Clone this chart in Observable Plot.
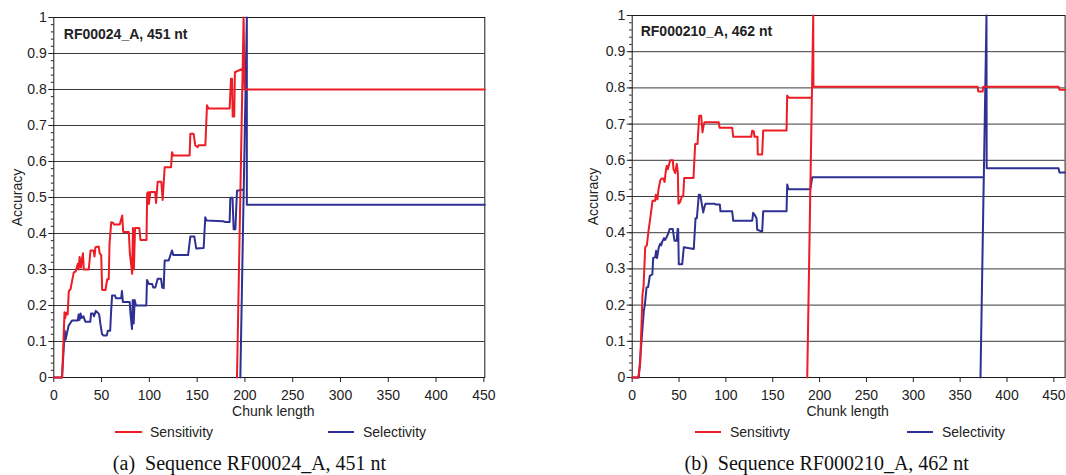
<!DOCTYPE html>
<html>
<head>
<meta charset="utf-8">
<script src="https://cdn.jsdelivr.net/npm/d3@7"></script>
<script src="https://cdn.jsdelivr.net/npm/@observablehq/plot@0.6"></script>
<style>
  html, body { margin: 0; padding: 0; background: #fff; }
  #fig { position: relative; width: 1066px; height: 475px; overflow: hidden; background: #fff; font-family: 'Liberation Sans', Arial, sans-serif; }
  .panel { position: absolute; top: 0; }
  .leg-line { position: absolute; height: 2px; }
  .leg-text { position: absolute; font-size: 14px; line-height: 16px; color: #222; white-space: nowrap; }
  .cap { position: absolute; font-family: 'Liberation Serif', 'Times New Roman', serif; font-size: 20px; line-height: 20px; color: #111; white-space: pre; transform: translateX(-50%); }
</style>
</head>
<body>
<div id="fig"></div>
<script>
// ---- shared axis ticks ----
const xTicks = [0, 50, 100, 150, 200, 250, 300, 350, 400, 450];
const xTickLabels = ["0", "50", "100", "150", "200", "250", "300", "350", "400", "450"];
const yTicks = [0, 0.1, 0.2, 0.3, 0.4, 0.5, 0.6, 0.7, 0.8, 0.9, 1];
const yTickLabels = ["0", "0.1", "0.2", "0.3", "0.4", "0.5", "0.6", "0.7", "0.8", "0.9", "1"];
const xLabel = "Chunk length";
const yLabel = "Accuracy";

// ---- panel (a) ----
const titleA = "RF00024_A, 451 nt";
const lengthA = 451;
const sensitivityA = [[0,0],[8.7,0],[11.2,0.181],[12,0.165],[13,0.18],[14.5,0.175],[15.7,0.24],[17.5,0.245],[19.2,0.269],[20.9,0.292],[23,0.295],[25.1,0.316],[26,0.30],[27,0.335],[28.5,0.305],[29.5,0.33],[30.5,0.345],[31.4,0.30],[36.6,0.30],[38.4,0.353],[41.5,0.353],[42.6,0.336],[43.6,0.362],[47,0.364],[48,0.345],[49.6,0.34],[50.6,0.243],[54.1,0.243],[55.9,0.273],[57.5,0.273],[58.3,0.371],[60.1,0.431],[62,0.43],[63,0.425],[69,0.425],[71.6,0.45],[72.6,0.404],[78.5,0.404],[79.5,0.348],[82,0.288],[82.8,0.415],[83.8,0.30],[85,0.415],[89.5,0.415],[90.7,0.382],[97,0.382],[97.7,0.512],[99,0.515],[99.5,0.482],[101,0.515],[106,0.515],[107,0.485],[108.7,0.544],[112.5,0.544],[113.9,0.493],[116,0.584],[122.7,0.584],[123.7,0.626],[125,0.617],[142.1,0.617],[142.9,0.677],[146.3,0.677],[148,0.645],[150.5,0.64],[151.5,0.645],[158.6,0.645],[160.3,0.756],[162,0.747],[184,0.747],[185.4,0.83],[186.5,0.83],[187.2,0.725],[188.8,0.725],[189.5,0.848],[197.6,0.858],[191.7,0],[198.6,1],[199.6,0.8],[451,0.8]];
const selectivityA = [[0,0],[8.6,0],[11.5,0.13],[12.3,0.105],[15.5,0.144],[17,0.15],[19,0.158],[25,0.158],[26,0.175],[27,0.16],[28,0.178],[29,0.165],[31,0.17],[33,0.155],[38.2,0.155],[39,0.178],[41,0.178],[42,0.17],[44,0.185],[46,0.18],[47.5,0.175],[48.7,0.15],[50.5,0.12],[52.1,0.117],[55.5,0.117],[56.5,0.13],[59,0.13],[60,0.185],[61,0.228],[64,0.228],[65,0.22],[70.5,0.22],[71.3,0.24],[72.3,0.21],[79.4,0.21],[80.2,0.178],[81.8,0.135],[82.6,0.215],[83.6,0.15],[84.6,0.215],[86,0.2],[96.8,0.2],[97.5,0.271],[99.5,0.26],[103,0.26],[104,0.25],[106.2,0.25],[108.7,0.274],[112.2,0.274],[113.5,0.25],[115,0.248],[116,0.325],[120.2,0.325],[123.7,0.353],[125,0.34],[140.5,0.34],[142.9,0.392],[147,0.392],[149.1,0.358],[156.8,0.36],[158.5,0.445],[160,0.436],[177,0.434],[179.5,0.432],[184,0.432],[184.7,0.499],[187,0.499],[188.2,0.412],[190,0.412],[191.7,0.519],[198.7,0.522],[195.2,0],[202,1],[202,0.48],[451,0.48]];
const legendA = ["Sensitivity", "Selectivity"];
const captionA = "(a)  Sequence RF00024_A, 451 nt";

// ---- panel (b) ----
const titleB = "RF000210_A, 462 nt";
const lengthB = 462;
const sensitivityB = [[0,0],[6.5,0],[8.5,0.037],[11,0.23],[12.1,0.25],[13.9,0.36],[15.6,0.365],[17.4,0.405],[19.2,0.438],[21.7,0.488],[24.5,0.488],[25.2,0.505],[27,0.492],[28.1,0.52],[29.9,0.544],[31.3,0.55],[33.4,0.55],[34.5,0.54],[35.9,0.571],[36.9,0.585],[38,0.575],[39.5,0.59],[40.6,0.6],[43.3,0.6],[44.1,0.575],[45.9,0.565],[47.6,0.59],[48.7,0.565],[49.4,0.48],[51.2,0.485],[52.9,0.5],[54.4,0.5],[55.5,0.551],[65.4,0.551],[67.2,0.645],[69.7,0.645],[71.5,0.723],[73.6,0.723],[75,0.677],[76.1,0.695],[77.2,0.705],[92.4,0.705],[93.2,0.69],[106.7,0.69],[107.8,0.665],[127,0.665],[128.1,0.682],[129.8,0.68],[130.5,0.665],[133.7,0.665],[134,0.616],[138.7,0.616],[139.8,0.682],[164.7,0.682],[165.4,0.779],[167.1,0.773],[191.7,0.773],[186.8,0],[193.2,1],[193.4,0.803],[368.8,0.803],[369.3,0.79],[374,0.79],[374.6,0.803],[455,0.803],[456,0.795],[462,0.795]];
const selectivityB = [[0,0],[7,0],[12.4,0.184],[13.5,0.2],[15.3,0.249],[17,0.25],[18.8,0.281],[21.5,0.285],[22.4,0.33],[24.5,0.332],[25.5,0.35],[26.5,0.33],[28.4,0.36],[30,0.37],[31,0.365],[32,0.375],[34,0.385],[35,0.38],[36.6,0.387],[38,0.395],[40.1,0.41],[43.3,0.41],[45.1,0.378],[47.5,0.378],[48.5,0.41],[49.1,0.41],[49.7,0.313],[53.4,0.313],[55.1,0.36],[65.7,0.355],[67.6,0.44],[69,0.44],[71.1,0.505],[72.5,0.505],[75.8,0.456],[77,0.47],[78.2,0.48],[88,0.48],[89,0.478],[93.5,0.478],[94.2,0.459],[106.7,0.459],[107.8,0.433],[128.1,0.433],[129.1,0.455],[130.5,0.45],[132.7,0.44],[133.4,0.408],[138.7,0.403],[139.8,0.459],[164.7,0.459],[165.4,0.533],[166.8,0.52],[190.1,0.52],[192.1,0.553],[375.2,0.553],[371.7,0],[378.1,1],[378.3,0.578],[455,0.578],[456,0.566],[462,0.566]];
const legendB = ["Sensitivty", "Selectivity"];
const captionB = "(b)  Sequence RF000210_A, 462 nt";

const RED = "#ee1c25";
const BLUE = "#2e3192";
const INK = "#222";
const minorY = d3.range(0, 1.0001, 0.02);

function panel({length, sens, sel, title, left, width, marginLeft, marginRight, marginTop, titleDx, titleDy, xLabelDx, yLabelDx}) {
  const height = 420;
  const frameBottom = 377;
  const plot = Plot.plot({
    width, height,
    marginLeft, marginRight, marginTop,
    marginBottom: height - frameBottom,
    x: {domain: [0, length]},
    y: {domain: [0, 1]},
    style: {fontFamily: "'Liberation Sans', Arial, sans-serif", fontSize: "14px", background: "white", overflow: "visible", color: INK},
    marks: [
      Plot.gridY(yTicks, {stroke: "#3a3a3a", strokeOpacity: 1, strokeWidth: 1}),
      Plot.axisY(minorY, {tickSize: 2.5, tickFormat: () => "", stroke: INK, label: null}),
      Plot.axisY(yTicks, {tickSize: 5, tickPadding: 2, tickFormat: d => yTickLabels[yTicks.indexOf(d)], fontSize: 14, fill: INK, stroke: INK, label: null}),
      Plot.axisX(xTicks, {tickSize: 5, tickPadding: 8, tickFormat: d => xTickLabels[xTicks.indexOf(d)], fontSize: 14, fill: INK, stroke: INK, label: null}),
      Plot.frame({stroke: "#1a1a1a", strokeWidth: 1}),
      Plot.line(sel, {x: d => d[0], y: d => d[1], stroke: BLUE, strokeWidth: 2, curve: "linear"}),
      Plot.line(sens, {x: d => d[0], y: d => d[1], stroke: RED, strokeWidth: 2, curve: "linear"}),
      Plot.text([title], {text: d => d, frameAnchor: "top-left", dx: titleDx, dy: titleDy, lineAnchor: "middle", textAnchor: "start", fontWeight: "bold", fontSize: 14, fill: INK}),
      Plot.text([xLabel], {text: d => d, frameAnchor: "bottom", dx: xLabelDx, dy: 38.5, lineAnchor: "bottom", fontSize: 14, fill: INK}),
      Plot.text([yLabel], {text: d => d, frameAnchor: "left", dx: yLabelDx, rotate: -90, lineAnchor: "middle", textAnchor: "middle", fontSize: 14, fill: INK})
    ]
  });
  plot.classList.add("panel");
  plot.style.left = left + "px";
  return plot;
}

const fig = document.getElementById("fig");
fig.appendChild(panel({length: lengthA, sens: sensitivityA, sel: selectivityA, title: titleA, left: 0, width: 533, marginLeft: 53.3, marginRight: 48.7, marginTop: 17, titleDx: 10, titleDy: 17.5, xLabelDx: 4, yLabelDx: -36}));
fig.appendChild(panel({length: lengthB, sens: sensitivityB, sel: selectivityB, title: titleB, left: 578, width: 488, marginLeft: 53.7, marginRight: 1.4, marginTop: 15, titleDx: 8.5, titleDy: 16.5, xLabelDx: -1, yLabelDx: -39}));

function legendItem(x0, x1, tx, color, label) {
  const l = document.createElement("div");
  l.className = "leg-line";
  l.style.left = x0 + "px"; l.style.width = (x1 - x0) + "px"; l.style.top = "431.3px"; l.style.background = color;
  const t = document.createElement("div");
  t.className = "leg-text";
  t.style.left = tx + "px"; t.style.top = "423.8px";
  t.textContent = label;
  fig.appendChild(l); fig.appendChild(t);
}
legendItem(115, 142, 150, RED, legendA[0]);
legendItem(328, 354, 363, BLUE, legendA[1]);
legendItem(695, 721, 730, RED, legendB[0]);
legendItem(907, 933, 942, BLUE, legendB[1]);

function caption(cx, text) {
  const c = document.createElement("div");
  c.className = "cap";
  c.style.left = cx + "px"; c.style.top = "453.3px";
  c.textContent = text;
  fig.appendChild(c);
}
caption(249.5, captionA);
caption(826.7, captionB);
</script>
</body>
</html>
